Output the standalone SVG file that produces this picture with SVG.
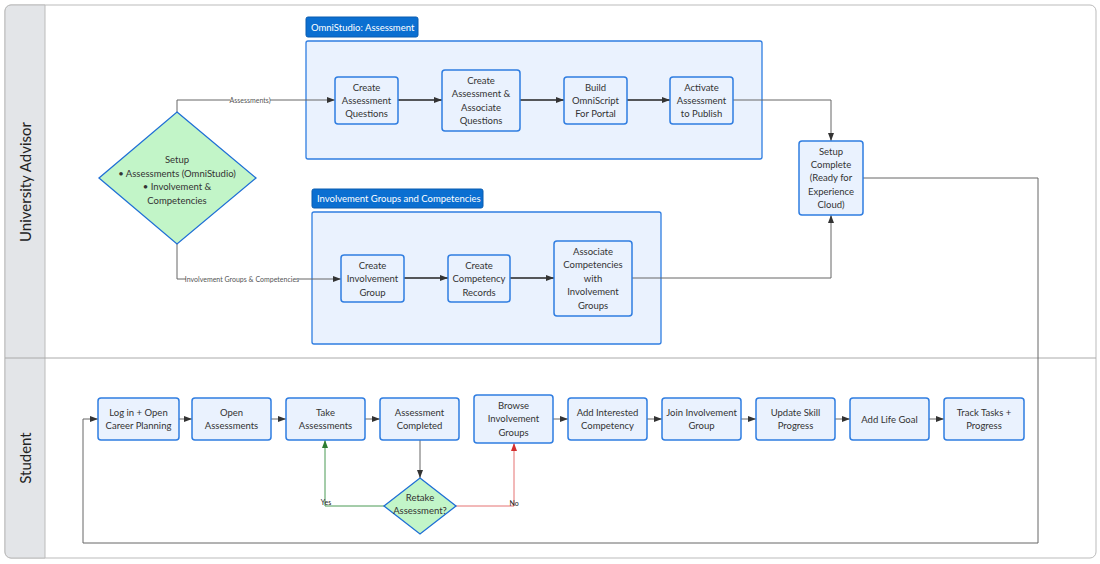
<svg xmlns="http://www.w3.org/2000/svg" width="1100" height="564" viewBox="0 0 1100 564">
<style>
text{font-family:Lato,"Liberation Sans",sans-serif;fill:#333;font-size:9.5px;text-anchor:middle}
.n{fill:#eaf2fe;stroke:#2f7de1;stroke-width:1.5}
.g{fill:#eaf2fe;stroke:#2f7de1;stroke-width:1.3}
.h{fill:#0b6fd1;stroke:#0a5cb0}
.ht{fill:#fff;text-anchor:start;font-size:9.5px}
.d{fill:#c2f5c8;stroke:#1f6fd6;stroke-width:1.3}
.c{fill:none;stroke:#666;stroke-width:1}
.k{fill:none;stroke:#222;stroke-width:1.5}
.l{font-size:7px;fill:#555}
.lane{font-size:15px;fill:#222}
</style>
<defs>
<marker id="a" markerWidth="8" markerHeight="6" refX="8" refY="3" orient="auto" markerUnits="userSpaceOnUse"><path d="M0,0L8,3L0,6z" fill="#333"/></marker>
<marker id="ag" markerWidth="8" markerHeight="6" refX="8" refY="3" orient="auto" markerUnits="userSpaceOnUse"><path d="M0,0L8,3L0,6z" fill="#2e7d32"/></marker>
<marker id="ar" markerWidth="8" markerHeight="6" refX="8" refY="3" orient="auto" markerUnits="userSpaceOnUse"><path d="M0,0L8,3L0,6z" fill="#d32f2f"/></marker>
</defs>
<rect x="0" y="0" width="1100" height="564" fill="#fff"/>
<g id="lanes">
<rect x="5" y="5" width="1091" height="553" rx="6" fill="#fff" stroke="#bbb"/>
<path d="M11,5H45V558H11a6,6 0 0 1 -6,-6V11a6,6 0 0 1 6,-6z" fill="#e3e5e8" stroke="#bbb"/>
<line x1="5" y1="358" x2="1096" y2="358" stroke="#aaa"/>
<text class="lane" transform="translate(31,182) rotate(-90)">University Advisor</text>
<text class="lane" transform="translate(31,458) rotate(-90)">Student</text>
</g>
<g id="group-omni">
<rect class="h" x="306" y="17" width="112" height="20" rx="2"/>
<text class="ht" x="311" y="30.5">OmniStudio: Assessment</text>
<rect class="g" x="306" y="41" width="456" height="118" rx="2"/>
</g>
<g id="group-inv">
<rect class="h" x="312" y="189" width="171" height="19" rx="2"/>
<text class="ht" x="317" y="202">Involvement Groups and Competencies</text>
<rect class="g" x="312" y="212" width="349" height="132" rx="2"/>
</g>
<g id="connectors">
<path class="c" d="M177,112V100H335" marker-end="url(#a)"/>
<rect x="230" y="95" width="40" height="9" fill="#fff"/><text class="l" x="250" y="102.5">Assessments)</text>
<path class="c" d="M177,244V279H341" marker-end="url(#a)"/>
<rect x="186" y="274" width="112" height="9" fill="#fff"/><text class="l" x="242" y="281.5">Involvement Groups &amp; Competencies</text>
<path class="k" d="M398,100H442" marker-end="url(#a)"/>
<path class="k" d="M520,100H564" marker-end="url(#a)"/>
<path class="k" d="M627,100H670" marker-end="url(#a)"/>
<path class="c" d="M733,100H831V141" marker-end="url(#a)"/>
<path class="k" d="M404,278H448" marker-end="url(#a)"/>
<path class="k" d="M510,278H554" marker-end="url(#a)"/>
<path class="c" d="M632,278H831V215" marker-end="url(#a)"/>
<path class="c" d="M863,178H1038V543H83V419H98" marker-end="url(#a)"/>
<path class="c" d="M179,419H192" marker-end="url(#a)"/>
<path class="c" d="M271,419H286" marker-end="url(#a)"/>
<path class="c" d="M365,419H380" marker-end="url(#a)"/>
<path class="c" d="M420,440V478" marker-end="url(#a)"/>
<path d="M384,506H325V440" fill="none" stroke="#4a9a55" stroke-width="1" marker-end="url(#ag)"/>
<text class="l" x="326" y="505" style="fill:#222">Yes</text>
<path d="M456,506H514V443" fill="none" stroke="#e57373" stroke-width="1" marker-end="url(#ar)"/>
<text class="l" x="514" y="506" style="fill:#222">No</text>
<path class="c" d="M553,419H568" marker-end="url(#a)"/>
<path class="c" d="M647,419H662" marker-end="url(#a)"/>
<path class="c" d="M741,419H756" marker-end="url(#a)"/>
<path class="c" d="M835,419H850" marker-end="url(#a)"/>
<path class="c" d="M929,419H944" marker-end="url(#a)"/>
</g>
<g id="setup"><path class="d" d="M177,112L256,178L177,244L99,178z"/>
<text x="177" y="163">Setup</text><text x="177" y="177">• Assessments (OmniStudio)</text><text x="177" y="190">• Involvement &amp;</text><text x="177" y="204">Competencies</text></g>
<g id="caq"><rect class="n" x="335" y="77" width="63" height="47" rx="3"/><text x="366.5" y="91">Create</text><text x="366.5" y="104">Assessment</text><text x="366.5" y="117">Questions</text></g>
<g id="caaq"><rect class="n" x="442" y="70" width="78" height="61" rx="3"/><text x="481" y="84">Create</text><text x="481" y="97">Assessment &amp;</text><text x="481" y="111">Associate</text><text x="481" y="124">Questions</text></g>
<g id="bos"><rect class="n" x="564" y="77" width="63" height="47" rx="3"/><text x="595.5" y="91">Build</text><text x="595.5" y="104">OmniScript</text><text x="595.5" y="117">For Portal</text></g>
<g id="act"><rect class="n" x="670" y="77" width="63" height="47" rx="3"/><text x="701.5" y="91">Activate</text><text x="701.5" y="104">Assessment</text><text x="701.5" y="117">to Publish</text></g>
<g id="setupc"><rect class="n" x="799" y="141" width="64" height="74" rx="3"/><text x="831" y="155">Setup</text><text x="831" y="168">Complete</text><text x="831" y="181">(Ready for</text><text x="831" y="195">Experience</text><text x="831" y="208">Cloud)</text></g>
<g id="cig"><rect class="n" x="341" y="255" width="63" height="47" rx="3"/><text x="372.5" y="269">Create</text><text x="372.5" y="282">Involvement</text><text x="372.5" y="296">Group</text></g>
<g id="ccr"><rect class="n" x="448" y="255" width="62" height="47" rx="3"/><text x="479" y="269">Create</text><text x="479" y="282">Competency</text><text x="479" y="296">Records</text></g>
<g id="acig"><rect class="n" x="554" y="241" width="78" height="75" rx="3"/><text x="593" y="255">Associate</text><text x="593" y="268">Competencies</text><text x="593" y="282">with</text><text x="593" y="295">Involvement</text><text x="593" y="309">Groups</text></g>
<g id="s1"><rect class="n" x="98" y="398" width="81" height="42" rx="3"/><text x="138.5" y="416">Log in + Open</text><text x="138.5" y="429">Career Planning</text></g>
<g id="s2"><rect class="n" x="192" y="398" width="79" height="42" rx="3"/><text x="231.5" y="416">Open</text><text x="231.5" y="429">Assessments</text></g>
<g id="s3"><rect class="n" x="286" y="398" width="79" height="42" rx="3"/><text x="325.5" y="416">Take</text><text x="325.5" y="429">Assessments</text></g>
<g id="s4"><rect class="n" x="380" y="398" width="79" height="42" rx="3"/><text x="419.5" y="416">Assessment</text><text x="419.5" y="429">Completed</text></g>
<g id="retake"><path class="d" d="M420,478L456,506L420,534L384,506z"/><text x="420" y="501">Retake</text><text x="420" y="514">Assessment?</text></g>
<g id="s5"><rect class="n" x="474" y="395" width="79" height="48" rx="3"/><text x="513.5" y="409">Browse</text><text x="513.5" y="422">Involvement</text><text x="513.5" y="436">Groups</text></g>
<g id="s6"><rect class="n" x="568" y="398" width="79" height="42" rx="3"/><text x="607.5" y="416">Add Interested</text><text x="607.5" y="429">Competency</text></g>
<g id="s7"><rect class="n" x="662" y="398" width="79" height="42" rx="3"/><text x="701.5" y="416">Join Involvement</text><text x="701.5" y="429">Group</text></g>
<g id="s8"><rect class="n" x="756" y="398" width="79" height="42" rx="3"/><text x="795.5" y="416">Update Skill</text><text x="795.5" y="429">Progress</text></g>
<g id="s9"><rect class="n" x="850" y="398" width="79" height="42" rx="3"/><text x="889.5" y="422.5">Add Life Goal</text></g>
<g id="s10"><rect class="n" x="944" y="398" width="80" height="42" rx="3"/><text x="984" y="416">Track Tasks +</text><text x="984" y="429">Progress</text></g>
</svg>
